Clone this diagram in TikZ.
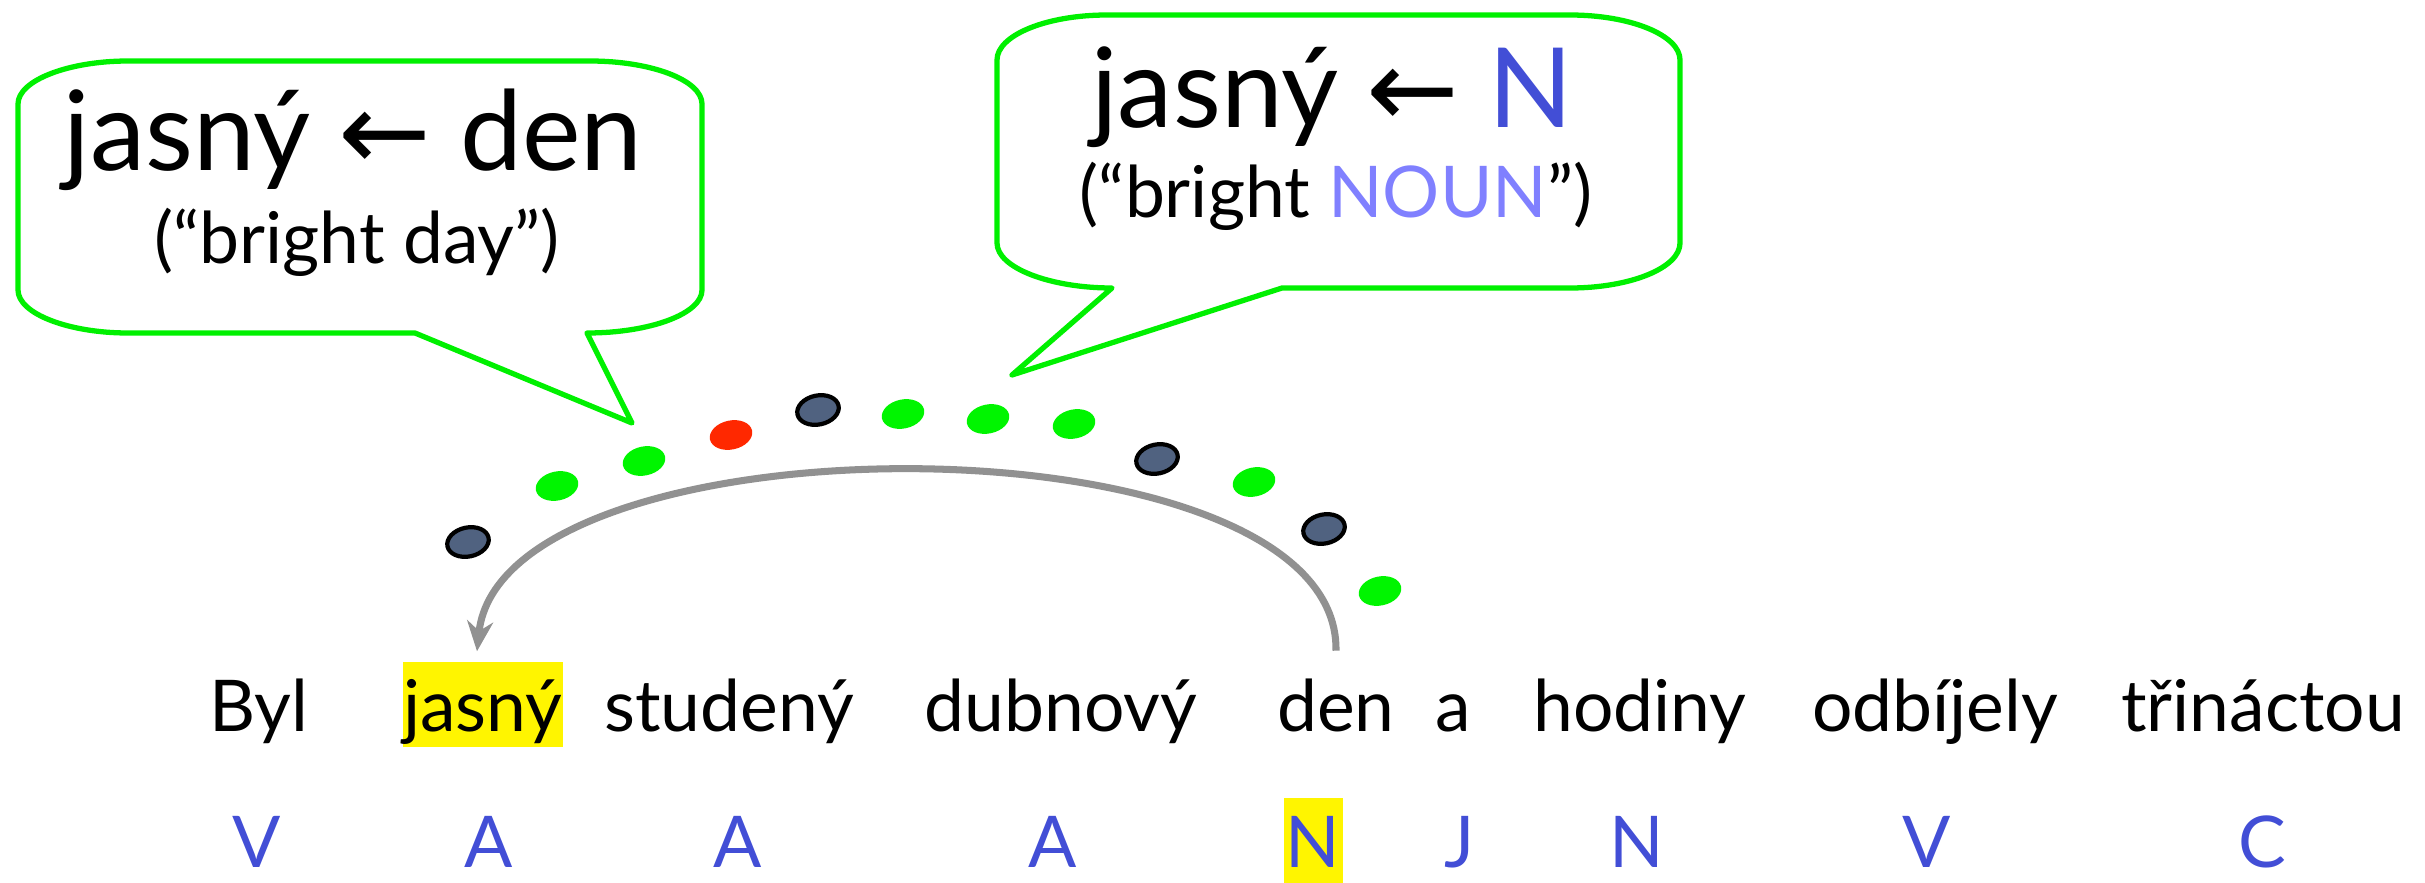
\documentclass[tikz,border=0pt]{standalone}
\usepackage{fontspec}
\setmainfont{Lato}
\newfontfamily\arrowfont{DejaVu Sans}
\usepackage{xcolor}
\usepackage{tikz}
\usetikzlibrary{shapes.geometric, arrows.meta, calc}
\definecolor{bubgreen}{RGB}{0,240,0}
\definecolor{dotgreen}{RGB}{0,245,0}
\definecolor{dotred}{RGB}{255,40,0}
\definecolor{dotslate}{RGB}{80,98,128}
\definecolor{arcgray}{RGB}{145,145,145}
\definecolor{tagblue}{RGB}{66,78,214}
\definecolor{nounblue}{RGB}{128,128,255}
\definecolor{hlyellow}{RGB}{255,245,0}
\tikzset{
  word/.style={anchor=base, inner sep=0pt, font=\fontsize{20.3}{24}\selectfont},
  tag/.style={word, text=tagblue},
  hl/.style={fill=hlyellow, text height=0.69cm, text depth=0.16cm},
  bigtxt/.style={anchor=base, inner sep=0pt, font=\fontsize{31.5}{36}\selectfont},
  subtxt/.style={anchor=base, inner sep=0pt, font=\fontsize{20.3}{24}\selectfont},
  greendot/.style={ellipse, fill=dotgreen, minimum width=0.43cm,
    minimum height=0.29cm, inner sep=0pt, rotate=12},
  reddot/.style={greendot, fill=dotred},
  darkdot/.style={greendot, fill=dotslate, draw=black, line width=1.2pt,
    minimum width=0.42cm, minimum height=0.29cm},
  bubble/.style={draw=bubgreen, line width=1.5pt, line join=round},
  arcarrow/.style={-{Stealth[length=0.3cm, width=0.26cm]}, draw=arcgray, line width=2pt}
}

\begin{document}
\begin{tikzpicture}[x=0.01cm, y=-0.01cm]
  \useasboundingbox (0,0) rectangle (2425,882);
  % Speech bubbles
  \draw[bubble] (128,61) -- (590,61) .. controls (651.6,61) and (702,80.3) .. (702,104)
    -- (702,290) .. controls (702,313.7) and (650,333) .. (587,333) -- (632,423) -- (415,333)
    -- (128,333) .. controls (68.6,333) and (18,313.7) .. (18,290)
    -- (18,104) .. controls (18,80.3) and (68.6,61) .. (128,61) -- cycle;
  \draw[bubble] (1107,15) -- (1570,15) .. controls (1630.5,15) and (1680,35.2) .. (1680,60)
    -- (1680,243) .. controls (1680,267.8) and (1630.5,288) .. (1570,288) -- (1282,288)
    -- (1012,375) -- (1112,288) .. controls (1050,288) and (997,267.8) .. (997,243)
    -- (997,60) .. controls (997,35.2) and (1046.5,15) .. (1107,15) -- cycle;
  % Bubble texts
  \node[bigtxt] (leftmain) at (353,171) {jasný {\arrowfont ←} den};
  \node[subtxt] (leftgloss) at (357,263) {(“bright day”)};
  \node[bigtxt] (rightmain) at (1332,127) {jasný {\arrowfont ←} {\color{tagblue}N}};
  \node[subtxt] (rightgloss) at (1336,218) {(“bright {\color{nounblue}NOUN}”)};
  % Dots
  \node[darkdot] (dot1) at (468,542) {};
  \node[greendot] (dot2) at (557,486) {};
  \node[greendot] (dot3) at (644,461) {};
  \node[reddot] (dot4) at (731,435) {};
  \node[darkdot] (dot5) at (818,410) {};
  \node[greendot] (dot6) at (903,414) {};
  \node[greendot] (dot7) at (988,419) {};
  \node[greendot] (dot8) at (1074,424) {};
  \node[darkdot] (dot9) at (1157,459) {};
  \node[greendot] (dot10) at (1254,482) {};
  \node[darkdot] (dot11) at (1324,529) {};
  \node[greendot] (dot12) at (1380,591) {};
  % Sentence
  \node[word] (byl) at (259,731) {Byl};
  \node[word, hl, minimum width=1.5cm] (jasny) at (483,731) {jasný};
  \node[word] (studeny) at (729,731) {studený};
  \node[word] (dubnovy) at (1061,731) {dubnový};
  \node[word] (den) at (1336,731) {den};
  \node[word] (conj) at (1453,731) {a};
  \node[word] (hodiny) at (1640,731) {hodiny};
  \node[word] (odbijely) at (1935,731) {odbíjely};
  \node[word] (trinactou) at (2263,731) {třináctou};
  % Tags
  \node[tag] (t1) at (257,867) {V};
  \node[tag] (t2) at (489,867) {A};
  \node[tag] (t3) at (738,867) {A};
  \node[tag] (t4) at (1053,867) {A};
  \node[tag, hl, minimum width=0.59cm] (t5) at (1313,867) {N};
  \node[tag] (t6) at (1460,867) {J};
  \node[tag] (t7) at (1637,867) {N};
  \node[tag] (t8) at (1927,867) {V};
  \node[tag] (t9) at (2262,867) {C};
  % Dependency arc
  \draw[arcarrow] ($(den.north)+(0,-27)$) .. controls +(4,-240) and +(25,-240) .. ($(jasny.north)+(-6,-10)$);
\end{tikzpicture}
\end{document}
